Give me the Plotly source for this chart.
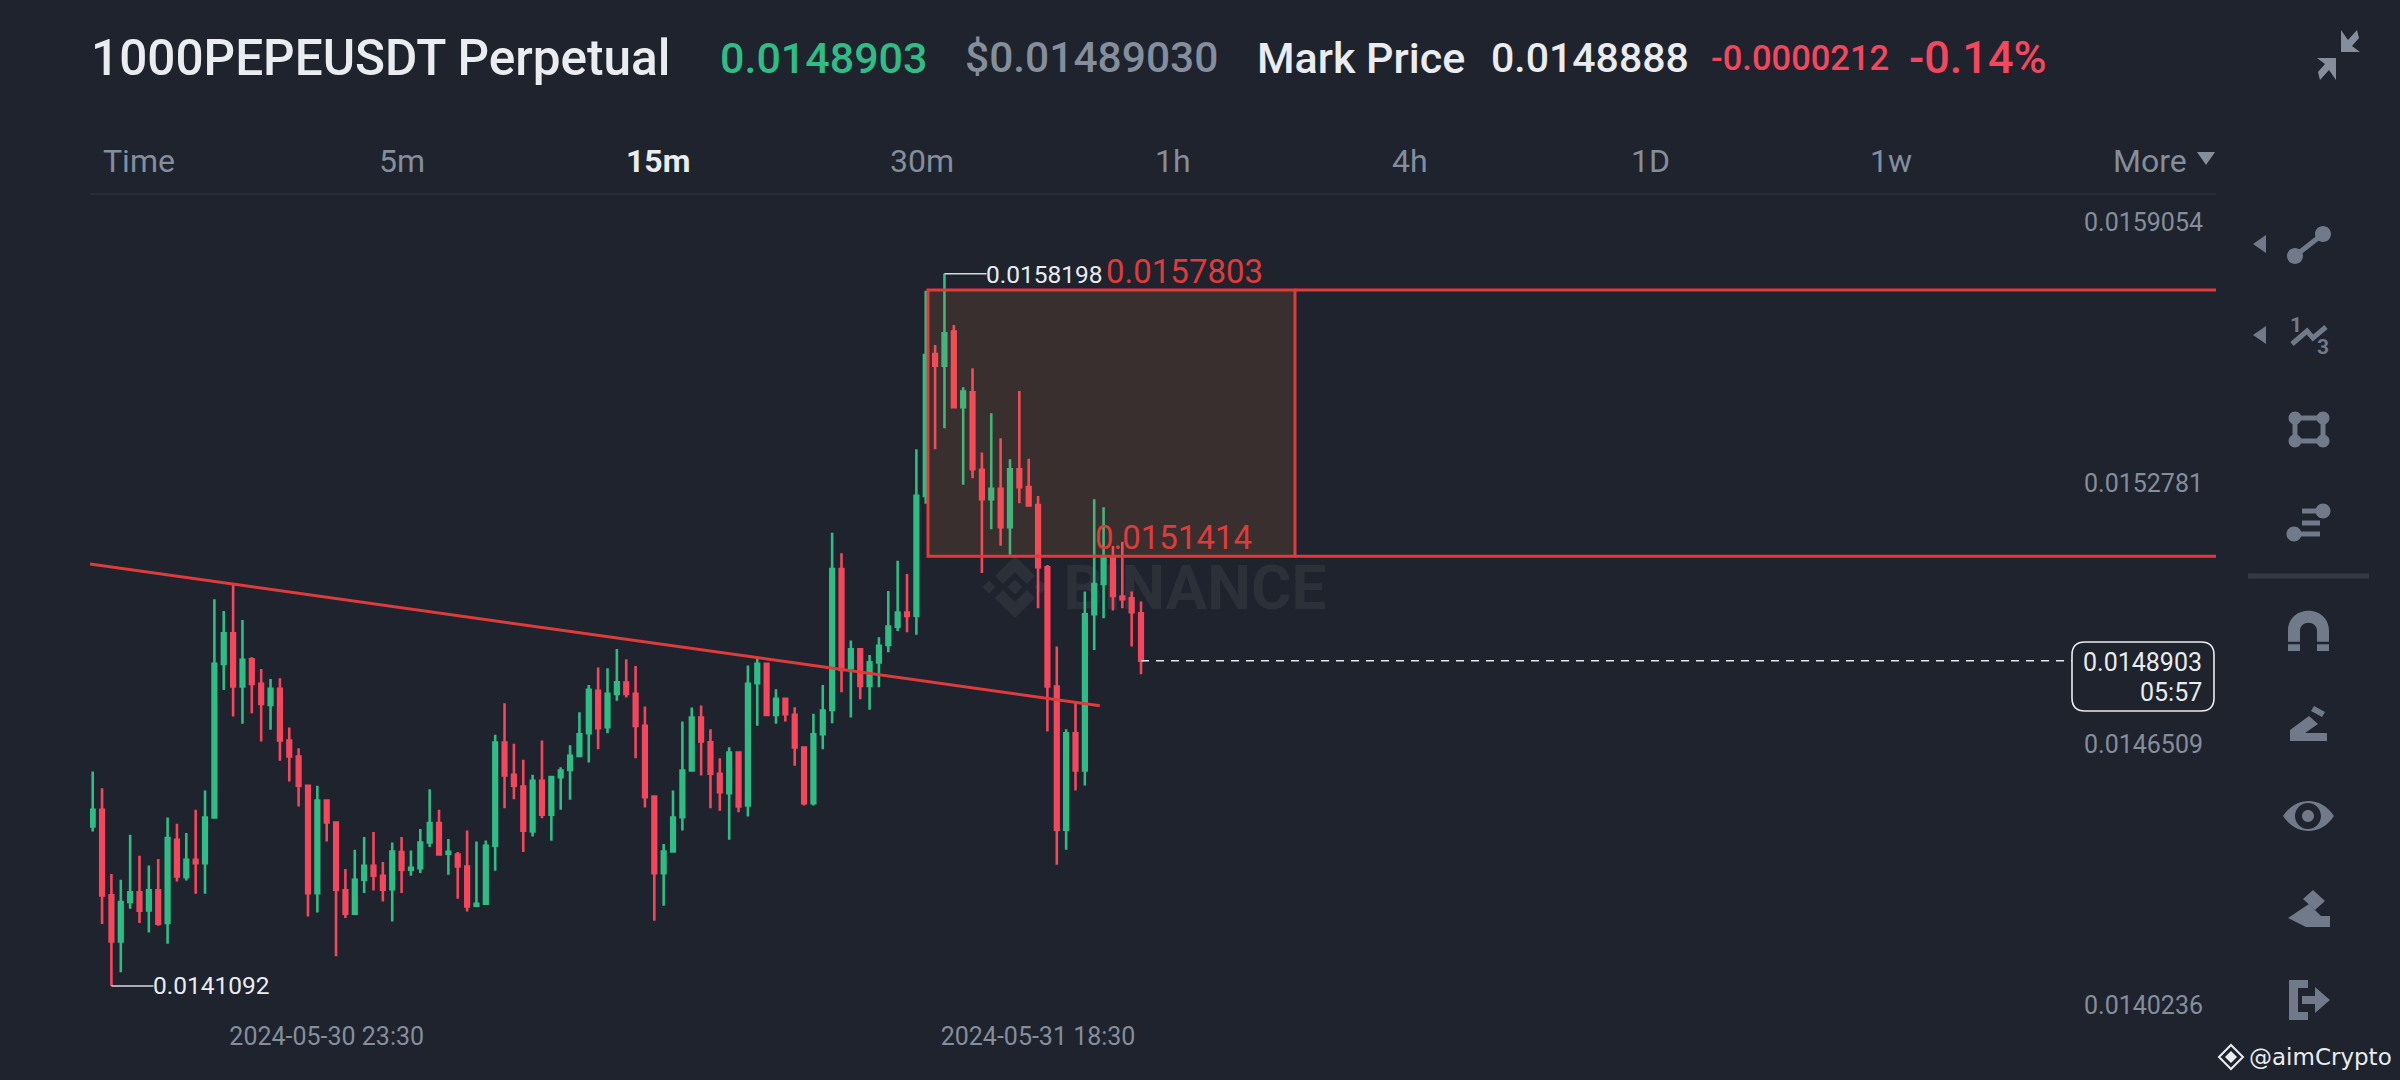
import re
import pandas as pd
import plotly.graph_objects as go

# ---------- data (prices in units of 0.0000001) ----------
PRICE_UNIT = 1e-7
first_candle = "2024-05-30 17:15"
opens = [144922,145322,143266,142162,143106,143338,142906,143386,142602,144602,143706,144122,144042,145138,148826,149562,148282,148938,148346,147842,148226,146986,146602,145898,143322,145546,145018,143386,142826,143642,143978,143738,143418,144306,143882,143922,144538,145002,144266,144250,143962,143018,143066,144458,146938,146162,145882,144802,146018,145202,146106,146282,146618,147162,148178,147306,148106,148378,148106,147338,145642,143802,144322,145146,146266,147538,146946,146186,145722,146698,145426,148362,148826,147602,147986,147602,146818,145482,147138,147722,151106,148722,149178,148298,148858,149282,149722,150058,149982,152862,156270,155990,156806,154990,155350,153486,152782,153030,152110,153502,153070,152642,151146,148282,144842,147162,146266,150018,150746,151386,150442,150402,150042]
highs = [146242,145842,143778,143642,144722,144218,143986,144138,145138,144986,144762,145322,145786,150378,150098,150722,149882,148986,148706,148466,148482,147298,146802,145898,145898,145546,145042,143898,144362,144666,144786,144066,144538,144666,144346,144858,145818,145322,144618,144306,144826,144562,144586,147122,147882,146906,146522,146162,146986,146138,146346,146874,147666,148322,148738,148722,149186,148938,148778,147802,145658,144498,145786,147442,147778,147826,147258,146562,146826,146698,148786,148962,148842,148218,147986,147786,146818,147626,148322,151978,151482,149386,149178,149042,149466,150578,151306,150986,153982,157790,156486,158198,156966,155470,155926,153902,154846,154246,153742,155382,153750,152858,151202,149242,147258,147922,150562,152778,152586,151658,151762,150562,150322]
lows = [144802,142578,141092,141418,142946,142602,142378,142538,142106,143602,143626,143306,143306,145138,148202,147562,147386,147642,146962,147242,146498,146002,145402,142762,142858,144562,141802,142722,142802,143322,143386,143122,142642,143322,143738,143802,144426,144242,143762,143186,142882,143002,143066,143858,145362,145578,144306,144682,145122,144578,145322,145562,146586,146458,146778,147162,147938,148018,146562,145378,142658,143018,144306,144826,146266,146146,145362,145298,144602,145266,145162,147338,147586,147386,147442,146378,145426,145426,146778,147402,148146,147538,147978,147722,148266,149106,149618,149586,149526,152670,153982,154486,154990,153126,153286,151006,152062,151662,151446,152686,152606,150162,147202,144002,144362,145786,145906,149162,149922,150106,150162,149242,148578]
closes = [145322,143266,142162,143106,143338,142898,143386,142586,144642,143722,144122,144042,145138,148826,149562,148282,148922,148346,147866,148226,146986,146602,145898,143322,145546,145018,143402,142826,143642,143978,143738,143402,144322,143882,143930,144538,145002,144250,144314,143962,143002,143066,144458,146938,146146,145898,144818,146018,145202,146106,146266,146618,147138,148202,147282,148106,148386,148106,147338,145626,143802,144322,145138,146266,147538,146962,146186,145746,146698,145402,148346,148826,147602,147986,147618,146818,145482,147138,147706,151106,148682,149178,148298,148866,149258,149722,150058,149978,152862,156246,155990,156766,154990,155366,153502,152782,153030,152110,153502,153070,152630,151146,148282,144842,147162,146266,150018,150746,151386,150458,150378,150066,148903]

y_tick_values = [0.0159054, 0.0152781, 0.0146509, 0.0140236]
y_tick_labels = ["0.0159054", "0.0152781", "0.0146509", "0.0140236"]
x_tick_labels = ["2024-05-30 23:30", "2024-05-31 18:30"]

high_label = "0.0158198"
low_label = "0.0141092"
zone_top = 0.0157803
zone_bottom = 0.0151414
last_price = 0.0148903
countdown = "05:57"
# trend line and zone ends, as fractional candle numbers
trend_prices = [0.0151225, 0.0147822]
trend_candles = [0.71, 108.6]
zone_candles = [90.24, 129.45]

header = [
    ("1000PEPEUSDT Perpetual", 89, 58, 49.5, "#eaecef"),
    ("0.0148903", 718, 58, 43, "#2ebd85"),
    ("$0.01489030", 963, 58, 42.5, "#848e9c"),
    ("Mark Price", 1255, 58, 43, "#eaecef"),
    ("0.0148888", 1489, 58, 41, "#eaecef"),
    ("-0.0000212", 1709, 58, 34.5, "#f6465d"),
    ("-0.14%", 1907, 58, 45, "#f6465d"),
]
intervals = [("Time", 101), ("5m", 377), ("15m", 624), ("30m", 888), ("1h", 1153),
             ("4h", 1390), ("1D", 1629), ("1w", 1868), ("More", 2111)]

# ---------- styles ----------
BG = "#1e232d"
GREEN = "#2ebd85"
RED = "#f6465d"
LINE_RED = "#e03b3b"
GRAY = "#848e9c"
ICON = "#707a8a"
FAINT = "#2b3039"
W, H = 2400, 1080
SPACING_PX = 9.36
FIRST_PX = 92.7
PLOT_L, PLOT_R, PLOT_T, PLOT_B = 90, 2216, 194, 1023
PX_PER_PRICE = 416400.0
REF_Y = 238  # pixel row of the top tick value

t0 = pd.Timestamp(first_candle)
def when(candle_number):
    return t0 + pd.Timedelta(minutes=15) * (candle_number - 1)
def candle_at_px(px):
    return 1 + (px - FIRST_PX) / SPACING_PX
def price_at_py(py):
    return y_tick_values[0] - (py - REF_Y) / PX_PER_PRICE

times = pd.date_range(t0, periods=len(opens), freq="15min")
scale = lambda seq: [round(v * PRICE_UNIT, 7) for v in seq]

fig = go.Figure()
fig.add_trace(go.Candlestick(
    x=times, open=scale(opens), high=scale(highs), low=scale(lows), close=scale(closes),
    whiskerwidth=0, hoverinfo="skip", showlegend=False,
    increasing=dict(line=dict(color=GREEN, width=2.6), fillcolor=GREEN),
    decreasing=dict(line=dict(color=RED, width=2.6), fillcolor=RED),
))
fig.add_trace(go.Scatter(
    x=[when(c) for c in trend_candles], y=trend_prices, mode="lines",
    line=dict(color=LINE_RED, width=3), hoverinfo="skip", showlegend=False,
))

# ---------- helpers for chrome drawn in page pixels ----------
def pth(s):
    return re.sub(r"(-?[\d.]+),(-?[\d.]+)",
                  lambda m: f"{float(m.group(1))/W:.5f},{1-float(m.group(2))/H:.5f}", s)
def circ(cx, cy, r):
    k = 0.552 * r
    return (f"M{cx+r},{cy} C{cx+r},{cy+k} {cx+k},{cy+r} {cx},{cy+r} "
            f"C{cx-k},{cy+r} {cx-r},{cy+k} {cx-r},{cy} C{cx-r},{cy-k} {cx-k},{cy-r} {cx},{cy-r} "
            f"C{cx+k},{cy-r} {cx+r},{cy-k} {cx+r},{cy} Z ")
shapes = []
def fill(s, color=ICON, layer="above"):
    shapes.append(dict(type="path", xref="paper", yref="paper", path=pth(s), fillcolor=color,
                       line=dict(width=0), layer=layer))
def stroke(s, color=ICON, width=4, layer="above"):
    shapes.append(dict(type="path", xref="paper", yref="paper", path=pth(s), line=dict(color=color, width=width),
                       layer=layer))

# separator under interval row
stroke(f"M{PLOT_L},194 L{PLOT_R},194", FAINT, 1.5)

# watermark
wm = lambda cx, cy, r: f"M{cx},{cy-r} L{cx+r},{cy} L{cx},{cy+r} L{cx-r},{cy} Z "
for d in (wm(1015, 587, 7.5), wm(989, 587, 6.5), wm(1041, 587, 6.5)):
    fill(d, FAINT, "below")
fill("M1015,556 L1035,576 L1027,584 L1015,572 L1003,584 L995,576 Z", FAINT, "below")
fill("M1015,618 L1035,598 L1027,590 L1015,602 L1003,590 L995,598 Z", FAINT, "below")
shapes.append(dict(type="rect", xref="paper", yref="paper", x0=1060/W, x1=1330/W, y0=1-603/H, y1=1-563/H,
                   line=dict(width=0), fillcolor="rgba(0,0,0,0)", layer="below",
                   label=dict(text="<b>BINANCE</b>", font=dict(family="Roboto", size=62, color=FAINT),
                              textposition="middle center")))

# zone and horizontal levels
shapes.append(dict(type="rect", xref="x", yref="y", x0=when(zone_candles[0]), x1=when(zone_candles[1]),
                   y0=zone_bottom, y1=zone_top, fillcolor="rgba(220,120,60,0.14)",
                   line=dict(color=LINE_RED, width=3), layer="above"))
for level in (zone_top, zone_bottom):
    shapes.append(dict(type="line", xref="x", yref="y", x0=when(zone_candles[1]), x1=when(candle_at_px(PLOT_R)),
                       y0=level, y1=level, line=dict(color=LINE_RED, width=3)))

# high / low leader lines
hi_i = highs.index(max(highs)) + 1
lo_i = lows.index(min(lows)) + 1
shapes.append(dict(type="line", xref="x", yref="y", x0=when(hi_i), x1=when(hi_i + 4.5),
                   y0=float(high_label), y1=float(high_label), line=dict(color="#d8dade", width=1.5)))
shapes.append(dict(type="line", xref="x", yref="y", x0=when(lo_i), x1=when(lo_i + 4.5),
                   y0=float(low_label), y1=float(low_label), line=dict(color="#d8dade", width=1.5)))

# last price line and box
shapes.append(dict(type="line", xref="x", yref="y", x0=when(len(opens)), x1=when(candle_at_px(2072)),
                   y0=last_price, y1=last_price, line=dict(color="#e6e8ea", width=1.5, dash="8px,7px")))
r = 13
shapes.append(dict(type="path", xref="paper", yref="paper", fillcolor=BG, line=dict(color="#eaecef", width=1.6),
                   path=pth(f"M{2072+r},642 L{2214-r},642 Q2214,642 2214,{642+r} L2214,{711-r} Q2214,711 {2214-r},711 "
                            f"L{2072+r},711 Q2072,711 2072,{711-r} L2072,{642+r} Q2072,642 {2072+r},642 Z")))

# toolbar icons
for y in (244, 335):
    fill(f"M2253,{y} L2266,{y-9} L2266,{y+9} Z", ICON)
stroke("M2295,256 L2323,234", ICON, 5)
fill(circ(2295, 256, 8) + circ(2323, 234, 8))
stroke("M2292,344 L2307,331 L2313,338 L2326,327", ICON, 5)
stroke("M2295,418 L2323,418 L2323,441 L2295,441 Z", ICON, 5)
for cx, cy in ((2295, 418), (2323, 418), (2295, 441), (2323, 441)):
    fill(circ(cx, cy, 6.5))
stroke("M2294,534 L2320,534", ICON, 5)
stroke("M2302,523 L2320,523", ICON, 5)
stroke("M2302,511 L2320,511", ICON, 5)
fill(circ(2323, 511, 7.5) + circ(2294, 534, 7.5))
stroke("M2248,576 L2369,576", "#343a44", 5)
fill("M2288,651 L2288,631 C2288,604 2329,604 2329,631 L2329,651 L2317,651 L2317,631 C2317,620 2300,620 2300,631 L2300,651 Z")
stroke("M2288,643 L2300,643", BG, 2.5)
stroke("M2317,643 L2329,643", BG, 2.5)
fill("M2290,741 L2290,730 L2309,716 L2318,724 L2305,733 L2327,733 L2327,741 Z")
fill("M2314,706 L2325,712 L2322,717 L2311,711 Z")
fill("M2283,816 C2296,796 2321,796 2334,816 C2321,836 2296,836 2283,816 Z " + circ(2308, 816, 13) + circ(2308, 816, 6))
fill("M2288,918 L2309,904 L2321,916 L2330,916 L2330,927 L2306,927 Z")
fill("M2313,890 L2325,901 L2315,910 L2303,899 Z")
fill("M2289,980 L2308,980 L2308,988 L2298,988 L2298,1012 L2308,1012 L2308,1020 L2289,1020 Z")
fill("M2302,996 L2315,996 L2315,987 L2330,1000 L2315,1013 L2315,1004 L2302,1004 Z")
# collapse icon
fill("M2341,52 L2341,30 L2348,40 L2357,30 L2359,38 L2352,46 L2360,52 Z", GRAY)
fill("M2336,58 L2336,80 L2329,70 L2320,80 L2318,72 L2325,64 L2317,58 Z", GRAY)
# More triangle
fill("M2197,152 L2215,152 L2206,165 Z", GRAY)
# signature logo
fill(wm(2231, 1057, 6), "#eaecef")
stroke("M2219,1057 L2231,1045 L2243,1057 L2231,1069 Z", "#eaecef", 2)

# ---------- text ----------
ann = []
def text(s, x, y, size, color, anchor="left", family="Roboto", weight=None):
    font = dict(family=family, size=size, color=color)
    if weight:
        font["weight"] = weight
    ann.append(dict(text=s, xref="paper", yref="paper", x=x/W, y=1-y/H, xanchor=anchor, yanchor="middle",
                    showarrow=False, font=font))
for s, x, y, size, color in header:
    text(s, x, y, size, color, weight=500)
for label, x in intervals:
    if label == "15m":
        text("<b>15m</b>", x, 161, 32, "#eaecef")
    else:
        text(label, x, 161, 32, GRAY)
text("<b>1</b>", 2296, 325, 21, ICON, "center")
text("<b>3</b>", 2323, 347, 21, ICON, "center")
text(high_label, 984, 274, 24.5, "#eaecef")
text(low_label, 151, 985, 24.5, "#eaecef")
text(f"{zone_top:.7f}", 1104, 271, 33, LINE_RED)
text(f"{zone_bottom:.7f}", 1093, 537, 33, LINE_RED)
text(f"{last_price:.7f}", 2204, 662, 25, "#eaecef", "right")
text(countdown, 2204, 692, 25, "#eaecef", "right")
text("@aimCrypto", 2247, 1057, 23, "#eaecef", family="DejaVu Sans")

fig.update_layout(
    width=W, height=H, margin=dict(l=0, r=0, t=0, b=0), autosize=False,
    paper_bgcolor=BG, plot_bgcolor=BG, showlegend=False, boxgap=0.45,
    shapes=shapes, annotations=ann,
    xaxis=dict(
        domain=[PLOT_L/W, PLOT_R/W], type="date", range=[when(candle_at_px(PLOT_L)), when(candle_at_px(PLOT_R))],
        rangeslider=dict(visible=False), showgrid=False, zeroline=False, showline=False, ticks="",
        tickmode="array", tickvals=x_tick_labels, ticktext=x_tick_labels, automargin=False, ticklabelstandoff=-4,
        tickfont=dict(family="Roboto", size=25, color=GRAY), fixedrange=True,
    ),
    yaxis=dict(
        domain=[1-PLOT_B/H, 1-PLOT_T/H], range=[price_at_py(PLOT_B), price_at_py(PLOT_T)], side="right",
        showgrid=False, zeroline=False, showline=False, ticks="",
        tickmode="array", tickvals=y_tick_values, ticktext=y_tick_labels, ticklabelposition="inside",
        ticklabelstandoff=10, ticklabelshift=-16, tickfont=dict(family="Roboto", size=25, color=GRAY), fixedrange=True,
    ),
)
fig.write_html("out.html", config=dict(displayModeBar=False),
               post_script="document.body.style.margin='0';document.body.style.background='%s';" % BG)
